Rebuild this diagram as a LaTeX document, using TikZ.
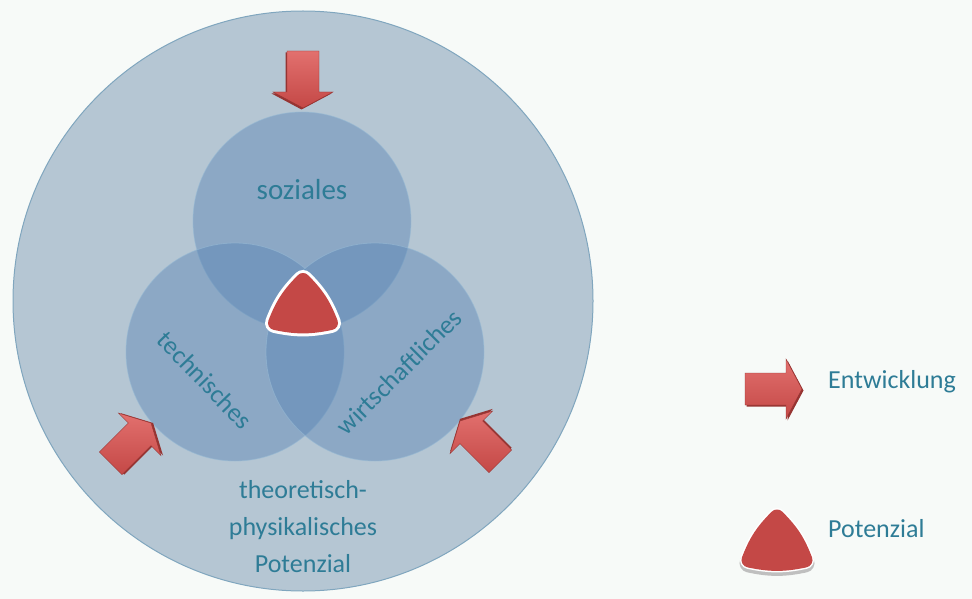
\documentclass[tikz,border=0pt]{standalone}
\usepackage{fontspec}
\setmainfont{Carlito}
\definecolor{bgc}{RGB}{247,250,248}
\definecolor{outerfill}{RGB}{181,198,211}
\definecolor{outeredge}{RGB}{128,166,190}
\definecolor{subfill}{RGB}{84,128,178}
\definecolor{subedge}{RGB}{150,185,212}
\definecolor{txtc}{RGB}{46,124,150}
\definecolor{potred}{RGB}{196,72,70}
\definecolor{arrlight}{RGB}{226,112,110}
\definecolor{arrdark}{RGB}{150,52,50}
\begin{document}
\begin{tikzpicture}[x=1pt,y=-1pt,
  lbl/.style={text=txtc, font=\fontsize{26}{37}\selectfont, inner sep=0pt},
  biglbl/.style={text=txtc, font=\fontsize{29}{37}\selectfont, inner sep=0pt},
  subc/.style={circle, fill=subfill, fill opacity=0.42, draw=subedge, draw opacity=0.6, line width=0.8pt, minimum size=218pt, inner sep=0pt},
  devarrow/.pic={
    \fill[arrdark] (1.5,-14.5) -- (42.5,-14.5) -- (42.5,-28.5) -- (58.5,1.5) -- (42.5,31.5) -- (42.5,17.5) -- (1.5,17.5) -- cycle;
    \shade[top color=arrlight, bottom color=potred, draw=arrdark, line width=0.4pt]
      (0,-16) -- (41,-16) -- (41,-30) -- (57,0) -- (41,30) -- (41,16) -- (0,16) -- cycle;
  },
  potri/.pic={
    \draw[white, line width=20pt, line join=round] (0,-26) to[bend left=12] (28,17) to[bend left=12] (-28,17) to[bend left=12] cycle;
    \draw[potred, line width=14pt, line join=round] (0,-26) to[bend left=12] (28,17) to[bend left=12] (-28,17) to[bend left=12] cycle;
    \fill[potred] (0,-26) to[bend left=12] (28,17) to[bend left=12] (-28,17) to[bend left=12] cycle;
  },
  legtri/.pic={
    \draw[black!25, line width=19pt, line join=round] (0,-23) to[bend left=12] (28,20) to[bend left=12] (-28,20) to[bend left=12] cycle;
    \draw[white, line width=18pt, line join=round] (0,-26) to[bend left=12] (28,17) to[bend left=12] (-28,17) to[bend left=12] cycle;
    \draw[potred, line width=15pt, line join=round] (0,-26) to[bend left=12] (28,17) to[bend left=12] (-28,17) to[bend left=12] cycle;
    \fill[potred] (0,-26) to[bend left=12] (28,17) to[bend left=12] (-28,17) to[bend left=12] cycle;
  }
]
\useasboundingbox[fill=bgc] (0,0) rectangle (972,599);
% outer circle
\node[circle, minimum size=580pt, inner sep=0pt, fill=outerfill, draw=outeredge, line width=1pt] (outer) at (303,301) {};
% three circles
\node[subc] (csoz) at (302,221) {};
\node[subc] (ctech) at (235,352) {};
\node[subc] (cwirt) at (375,352) {};
% labels
\node[biglbl, anchor=base] (soz) at (302,200) {soziales};
\node[lbl, rotate=-46] (tech) at (205,380) {technisches};
\node[lbl, rotate=45] (wirt) at (399,372) {wirtschaftliches};
\node[lbl, anchor=base] (theo1) at (303,498) {theoretisch-};
\node[lbl, anchor=base] (theo2) at (303,535) {physikalisches};
\node[lbl, anchor=base] (theo3) at (303,572) {Potenzial};
% central potential
\pic at (303,306) {potri};
% arrows
\pic[rotate=-90] at (303,51) {devarrow};
\pic[rotate=45] at (110.7,463.3) {devarrow};
\pic[rotate=135] at (500.3,461.3) {devarrow};
% legend
\pic at (745,389) {devarrow};
\node[lbl, anchor=base west] (ent) at (828,388) {Entwicklung};
\pic at (777,543) {legtri};
\node[lbl, anchor=base west] (pot) at (828,537) {Potenzial};
\end{tikzpicture}
\end{document}
